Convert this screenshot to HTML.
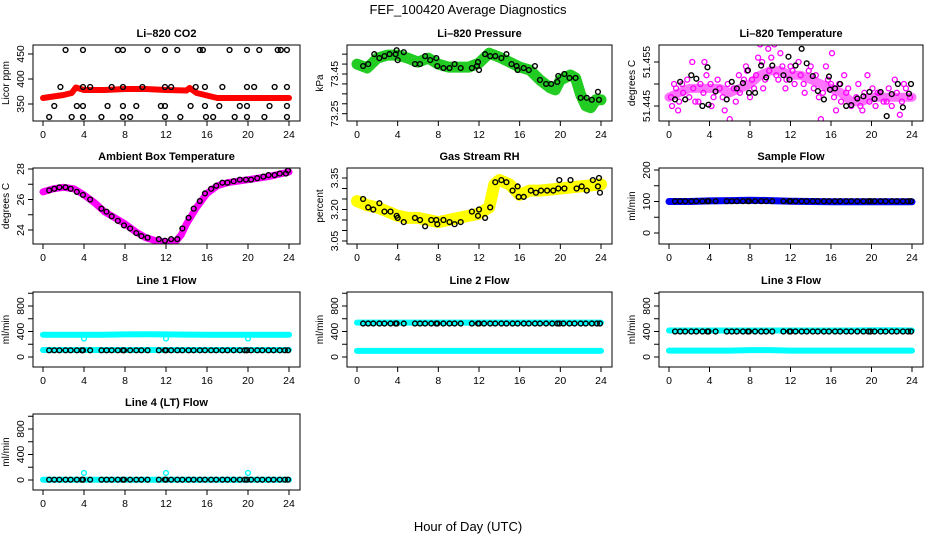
<!DOCTYPE html>
<html><head><meta charset="utf-8"><style>
html,body{margin:0;padding:0;background:#fff;}
svg{display:block;font-family:"Liberation Sans",sans-serif;}
</style></head><body>
<svg id="c" width="936" height="540" viewBox="0 0 936 540">
<text x="468" y="14" text-anchor="middle" font-size="13">FEF_100420  Average Diagnostics</text>
<text x="468" y="531" text-anchor="middle" font-size="13">Hour of Day (UTC)</text>
</svg>
<script>
// ---- data ----
const xTicks = [0,4,8,12,16,20,24];
const flowTimes = [0.6,1.1,1.6,2.2,2.7,3.3,3.8,3.9,4.6,5.7,6.2,6.7,7.3,7.8,7.9,8.5,9.1,9.6,10.2,11.3,11.9,12.0,12.5,13.1,13.6,14.2,14.7,15.3,15.8,16.4,16.9,17.5,18.0,18.6,19.2,19.7,19.9,20.3,20.9,21.4,22.0,22.5,23.1,23.6,23.9];

const co2BandT = [0,1,2,2.8,3.2,4,6,8,10,12,14,14.3,15,16,17,20,24];
const co2BandV = [362,365,368,372,383,378,378,380,380,378,377,382,372,367,362,362,362];
const co2PtT = [2.2,3.9,7.3,7.8,10.2,11.9,13.1,15.3,15.6,18.2,19.9,21.1,22.9,23.2,23.8, 1.7,3.9,4.6,6.7,7.8,9.7,11.9,12.5,14.9,15.8,17.5,19.9,20.6,22.6,23.8, 1.1,3.3,3.9,6.3,7.8,9.1,11.5,11.9,14.4,15.8,17.2,19.2,19.9,22.1,23.8, 0.6,2.8,3.9,5.7,7.8,8.5,11.9,13.4,15.9,16.6,18.7,19.9,21.6,23.8];
const co2PtV = [458,458,458,458,458,458,458,458,458,458,458,458,458,458,458, 384,384,384,384,384,384,384,384,384,384,384,384,384,384,384, 346,346,346,346,346,346,346,346,346,346,346,346,346,346,346, 324,324,324,324,324,324,324,324,324,324,324,324,324,324];

const presBandT = [0,1,2,3,4,5,6,7,8,9,10,11,12,13,14,15,16,17,18,19,19.5,20,21,21.5,22,22.5,23,23.5,24];
const presBandV = [73.50,73.48,73.53,73.545,73.545,73.53,73.51,73.53,73.50,73.485,73.485,73.485,73.505,73.555,73.535,73.51,73.485,73.47,73.42,73.38,73.37,73.42,73.445,73.43,73.345,73.29,73.28,73.32,73.32];
const presPtT = [0.6,1.1,1.7,2.2,2.7,3.2,3.8,3.9,4.0,4.6,5.7,6.2,6.7,7.2,7.8,7.9,8.5,9.1,9.6,10.2,11.3,11.8,11.9,12.0,12.6,13.1,13.6,14.2,14.7,15.2,15.7,15.8,16.4,16.9,17.5,18.0,18.6,19.1,19.7,19.8,20.4,20.9,21.5,22.0,22.6,23.1,23.7,23.8];
const presPtV = [73.49,73.50,73.55,73.53,73.54,73.55,73.55,73.57,73.52,73.56,73.50,73.50,73.54,73.52,73.53,73.49,73.48,73.48,73.50,73.48,73.48,73.49,73.51,73.47,73.55,73.54,73.54,73.53,73.55,73.50,73.49,73.47,73.48,73.47,73.49,73.42,73.40,73.40,73.41,73.44,73.45,73.43,73.43,73.33,73.33,73.32,73.36,73.32];

const tempBandT = [0,1,2,3,4,5,6,7,8,9,10,11,12,13,14,15,16,17,18,19,20,21,22,23,24];
const tempBandV = [51.447,51.448,51.449,51.449,51.449,51.449,51.448,51.449,51.450,51.452,51.453,51.453,51.452,51.452,51.451,51.450,51.449,51.448,51.446,51.446,51.447,51.447,51.447,51.447,51.447];
const tempPtT = [0.6,1.1,1.6,2.2,2.7,3.3,3.8,3.9,4.6,5.7,6.2,6.7,7.3,7.8,7.9,8.5,9.1,9.6,10.2,11.3,11.8,11.9,12.5,13.1,13.6,14.2,14.7,15.3,15.8,15.9,16.4,16.9,17.5,18.0,18.6,19.2,19.8,20.3,20.9,21.5,22.0,22.6,23.1,23.7,23.9];
const tempPtV = [51.4465,51.4505,51.4465,51.4520,51.4512,51.4450,51.4538,51.4453,51.4483,51.4465,51.4505,51.4490,51.4502,51.4531,51.4480,51.4480,51.4542,51.4515,51.4542,51.4520,51.4562,51.4510,51.4542,51.4580,51.4547,51.4518,51.4484,51.4465,51.4517,51.4487,51.4490,51.4500,51.4450,51.4452,51.4467,51.4472,51.4482,51.4466,51.4482,51.4427,51.4477,51.4500,51.4447,51.4478,51.4500];
const tempScT = [0.3,0.5,0.9,1.3,2.3,2.6,3.5,4.2,5.5,6.0,6.9,7.6,8.2,8.8,9.0,9.3,9.8,10.4,10.8,11.0,11.5,12.2,13.4,14.0,14.8,15.0,15.5,16.1,16.5,17.3,17.7,18.3,18.7,19.1,19.6,20.6,21.5,22.3,22.8,23.2,
 0.2,0.7,1.0,1.4,1.8,2.0,2.4,2.9,3.1,3.4,3.7,4.1,4.4,4.8,5.0,5.3,5.8,6.4,6.6,7.0,7.4,7.7,8.0,8.4,8.6,9.2,9.5,9.9,10.1,10.6,11.2,11.6,12.0,12.4,12.8,13.0,13.3,13.8,14.3,14.5,15.2,15.7,16.0,16.3,16.8,17.0,17.5,18.0,18.5,18.9,19.3,19.8,20.1,20.4,20.8,21.2,21.7,22.0,22.5,23.0,23.4,23.8];
const tempScV = [51.445,51.450,51.444,51.450,51.455,51.446,51.455,51.445,51.444,51.442,51.452,51.454,51.451,51.456,51.459,51.449,51.458,51.459,51.451,51.457,51.449,51.453,51.448,51.454,51.447,51.442,51.454,51.457,51.444,51.452,51.449,51.441,51.450,51.444,51.452,51.448,51.446,51.451,51.443,51.450,
 51.447,51.449,51.446,51.448,51.451,51.447,51.449,51.446,51.450,51.448,51.452,51.450,51.447,51.451,51.449,51.447,51.450,51.449,51.446,51.448,51.451,51.453,51.447,51.449,51.452,51.455,51.451,51.453,51.456,51.452,51.454,51.451,51.454,51.450,51.455,51.452,51.450,51.453,51.449,51.452,51.448,51.451,51.450,51.447,51.450,51.446,51.448,51.445,51.447,51.445,51.448,51.446,51.449,51.445,51.448,51.446,51.449,51.445,51.448,51.446,51.449,51.447];

const ambBandT = [0,1,2,3,4,5,6,7,8,9,10,11,12,13,13.5,14,15,16,17,18,20,22,24];
const ambBandV = [26.5,26.7,26.8,26.7,26.3,25.8,25.2,24.8,24.4,23.9,23.5,23.3,23.2,23.3,23.7,24.4,25.5,26.4,26.9,27.1,27.3,27.5,27.8];
const ambPtT = [0.6,1.1,1.6,2.2,2.7,3.3,3.9,4.6,5.7,6.2,6.7,7.3,7.9,8.5,9.1,9.6,10.2,11.3,11.9,12.5,13.1,13.6,14.2,14.7,15.3,15.8,16.4,16.9,17.5,18.0,18.6,19.2,19.8,20.3,20.9,21.5,22.0,22.6,23.1,23.7,23.9];
const ambPtV = [26.6,26.7,26.8,26.8,26.7,26.5,26.3,26.0,25.4,25.2,24.9,24.6,24.3,24.1,23.8,23.6,23.5,23.4,23.3,23.4,23.4,24.1,24.8,25.4,25.9,26.4,26.7,26.9,27.1,27.1,27.2,27.3,27.3,27.3,27.4,27.5,27.6,27.6,27.7,27.7,27.9];

const rhBandT = [0,1,2,3,4,5,6,7,8,9,10,11,12,13,13.5,14,15,16,17,18,20,22,24];
const rhBandV = [3.24,3.22,3.21,3.19,3.17,3.16,3.16,3.15,3.14,3.15,3.16,3.17,3.18,3.21,3.32,3.34,3.32,3.27,3.29,3.29,3.30,3.31,3.32];
const rhPtT = [0.6,1.1,1.6,2.2,2.7,3.3,3.9,4.0,4.6,5.7,6.2,6.7,7.3,7.8,7.9,8.5,9.1,9.6,10.2,11.3,11.9,12.0,12.6,13.1,13.6,14.2,14.7,15.3,15.8,15.9,16.4,17.1,17.6,18.1,18.7,19.3,19.8,19.9,20.4,21.0,21.6,22.1,22.6,23.2,23.7,23.8,23.9];
const rhPtV = [3.25,3.21,3.20,3.23,3.19,3.19,3.17,3.16,3.14,3.16,3.15,3.12,3.15,3.15,3.13,3.15,3.14,3.13,3.14,3.19,3.17,3.20,3.16,3.21,3.33,3.34,3.33,3.29,3.31,3.26,3.26,3.29,3.28,3.29,3.29,3.29,3.30,3.34,3.30,3.34,3.30,3.31,3.29,3.34,3.31,3.35,3.28];

const sampleBand = [100,100,102,103,104,103,101,100,99,99,99,99,99];
const bandT13 = [0,2,4,6,8,10,12,14,16,18,20,22,24];
const sampleFlowV = 101;

const line1Hi = [350,350,350,350,355,358,355,352,350,350,350,350,350];
const line1Lo = [110,110,110,110,110,110,110,110,110,110,110,110,110];
const line1PtV = 105;
const line2Hi = [540,540,540,540,540,540,540,540,540,540,540,540,540];
const line2Lo = [95,95,95,95,95,95,95,95,95,95,95,95,95];
const line2PtV = 525;
const line3Hi = [415,415,415,415,415,415,415,415,415,415,420,420,415];
const line3Lo = [100,100,100,100,108,108,100,100,100,100,100,100,100];
const line3PtV = 400;
const line4Base = [5,5,5,5,5,5,5,5,5,5,5,5,5];
const line4PtV = 5;
const spikeT = [4,12,20];
const line1SpikeV = [290,290,290];
const line4SpikeV = [110,110,110];

// ---- rendering ----
const NS='http://www.w3.org/2000/svg';
const svg=document.getElementById('c');
function mk(tag,attrs,parent){const e=document.createElementNS(NS,tag);for(const k in attrs)e.setAttribute(k,attrs[k]);(parent||svg).appendChild(e);return e;}
const colL=[33,347,659], colR=[300,612,923], rowT=[45,168,292,414], rowB=[121,244,367,490];

function panel(c,r,name,title,ylab,ref,ticks,labels){
  const L=colL[c],R=colR[c],T=rowT[r],B=rowB[r];
  const g=mk('g',{});
  
  
  const xs=t=>L+10+(R-11-L-10)*t/24;
  const ys=v=>ref[1]+(ref[3]-ref[1])*(v-ref[0])/(ref[2]-ref[0]);
  const clip=mk('clipPath',{id:'cl'+name},g);
  mk('rect',{x:L,y:T,width:R-L,height:B-T},clip);
  const plot=mk('g',{'clip-path':'url(#cl'+name+')'},g);
  
  
  const t=mk('text',{x:(L+R)/2,y:T-8,'text-anchor':'middle','font-size':'11','font-weight':'bold'},g);
  t.textContent=title;
  
  
  const box=mk('rect',{x:L,y:T,width:R-L,height:B-T,fill:'none',stroke:'#000','stroke-width':1},g);
  
  
  xTicks.forEach(v=>{
    const x=xs(v);
    mk('line',{x1:x,x2:x,y1:B,y2:B+5,stroke:'#000'},g);
    const tl=mk('text',{x:x,y:B+17,'text-anchor':'middle','font-size':'10.5'},g);
    tl.textContent=v;
    
    
  });
  ticks.forEach((v,i)=>{
    const y=ys(v);
    mk('line',{x1:L-5,x2:L,y1:y,y2:y,stroke:'#000'},g);
    if(labels[i]){
      const tl=mk('text',{x:0,y:0,'text-anchor':'middle','font-size':'10.5',transform:`translate(${L-9},${y}) rotate(-90)`},g);
      tl.textContent=labels[i];
      
      
    }
  });
  const yl=mk('text',{x:0,y:0,'text-anchor':'middle','font-size':'10',transform:`translate(${L-24},${(T+B)/2}) rotate(-90)`},g);
  yl.textContent=ylab;
  
  
  return {plot,xs,ys};
}
function band(p,T,V,color,w,op){
  const d=T.map((t,i)=>(i?'L':'M')+p.xs(t).toFixed(1)+','+p.ys(V[i]).toFixed(1)).join('');
  const e=mk('path',{d:d,fill:'none',stroke:color,'stroke-width':w,'stroke-linejoin':'round','stroke-linecap':'round',opacity:op||1},p.plot);
  
  
}
function pts(p,T,V,color,r,sw){
  T.forEach((t,i)=>{
    const v=Array.isArray(V)?V[i]:V;
    const e=mk('circle',{cx:p.xs(t),cy:p.ys(v),r:r||2.4,fill:'none',stroke:color||'#000','stroke-width':sw||1.4},p.plot);
    
    
  });
}

let p;
p=panel(0,0,'co2','Li\u2013820 CO2','Licor ppm',[450,54,350,104],[350,400,450],['350','400','450']);
band(p,co2BandT,co2BandV,'#ff0000',6); pts(p,co2PtT,co2PtV);

p=panel(1,0,'pressure','Li\u2013820 Pressure','kPa',[73.45,74,73.25,113.7],[73.25,73.30,73.35,73.40,73.45,73.50,73.55],['73.25','','','','73.45','','']);
band(p,presBandT,presBandV,'#22cc22',11); pts(p,presPtT,presPtV);

p=panel(2,0,'temperature','Li\u2013820 Temperature','degrees C',[51.455,62,51.445,106],[51.445,51.45,51.455],['51.445','','51.455']);
band(p,tempBandT,tempBandV,'#ff00ff',9,0.55); pts(p,tempScT,tempScV,'#ff00ff',2.5,1.3); pts(p,tempPtT,tempPtV);

p=panel(0,1,'ambient','Ambient Box Temperature','degrees C',[28,169,24,230],[24,25,26,27,28],['24','','26','','28']);
band(p,ambBandT,ambBandV,'#ff00ff',7); pts(p,ambPtT,ambPtV);

p=panel(1,1,'rh','Gas Stream RH','percent',[3.35,178,3.05,241],[3.05,3.10,3.15,3.20,3.25,3.30,3.35],['3.05','','','3.20','','','3.35']);
band(p,rhBandT,rhBandV,'#ffff00',12); pts(p,rhPtT,rhPtV);

p=panel(2,1,'sample-flow','Sample Flow','ml/min',[200,170,0,233],[0,50,100,150,200],['0','','100','','200']);
band(p,bandT13,sampleBand,'#0000ff',7); pts(p,flowTimes,sampleFlowV);

const fl=[0,200,400,600,800,1000], fll=['0','','400','','800',''];
p=panel(0,2,'line1','Line 1 Flow','ml/min',[800,306,0,357],fl,fll);
band(p,bandT13,line1Hi,'#00ffff',6); band(p,bandT13,line1Lo,'#00ffff',6); pts(p,spikeT,line1SpikeV,'#00ffff',2.4); pts(p,flowTimes,line1PtV);

p=panel(1,2,'line2','Line 2 Flow','ml/min',[800,306,0,357],fl,fll);
band(p,bandT13,line2Hi,'#00ffff',6); band(p,bandT13,line2Lo,'#00ffff',6); pts(p,flowTimes,line2PtV);

p=panel(2,2,'line3','Line 3 Flow','ml/min',[800,306,0,357],fl,fll);
band(p,bandT13,line3Hi,'#00ffff',6); band(p,bandT13,line3Lo,'#00ffff',6); pts(p,flowTimes,line3PtV);

p=panel(0,3,'line4','Line 4 (LT) Flow','ml/min',[800,429,0,480],fl,fll);
band(p,bandT13,line4Base,'#00ffff',6); pts(p,spikeT,line4SpikeV,'#00ffff',2.4); pts(p,flowTimes,line4PtV);
</script>
</body></html>
